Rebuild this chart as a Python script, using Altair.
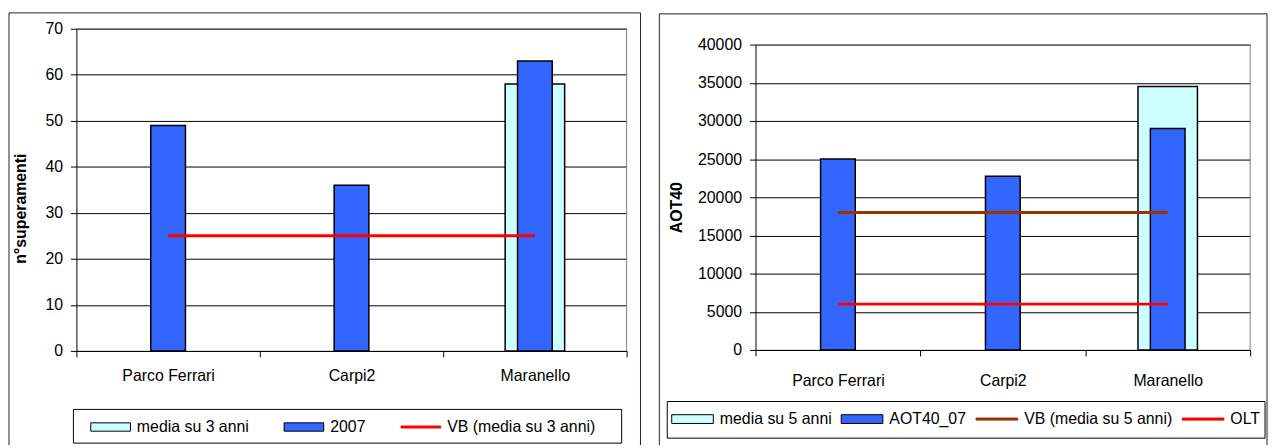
import json
import altair as alt
import pandas as pd

# ---------------- data ----------------
cats = ["Parco Ferrari", "Carpi2", "Maranello"]

# left chart
left_media_label = "media su 3 anni"
left_main_label = "2007"
left_vb_label = "VB (media su 3 anni)"
left_main = [49, 36, 63]
left_media = [None, None, 58]
left_vb = [25, 25, 25]
left_ticks = [0, 10, 20, 30, 40, 50, 60, 70]
left_ytitle = "n°superamenti"

# right chart
right_media_label = "media su 5 anni"
right_main_label = "AOT40_07"
right_vb_label = "VB (media su 5 anni)"
right_olt_label = "OLT"
right_main = [25000, 22750, 29000]
right_media = [None, None, 34500]
right_vb = [18000, 18000, 18000]
right_olt = [6000, 6000, 6000]
right_ticks = [0, 5000, 10000, 15000, 20000, 25000, 30000, 35000, 40000]
right_ytitle = "AOT40"

# ---------------- style ----------------
FONT = "Liberation Sans"
CYAN = "#CCFFFF"
BLUE = "#3366FF"
RED = "#FF0000"
BROWN = "#993300"
GRAY = "#808080"
FRAME = "#222222"


def series_df(values, label):
    rows = [{"cat": c, "value": v, "series": label}
            for c, v in zip(cats, values) if v is not None]
    return pd.DataFrame(rows)


one = pd.DataFrame({"k": [0]})


def panel(W, H, ytop, ymax, yticks, ytitle, title_x, title_y, xlab_pad,
          media_vals, media_label, main_vals, main_label, lines,
          frame, legend_pos, legend_box, colpad, symsize):
    line_names = [n for n, _, _ in lines]
    domain = [media_label, main_label] + line_names
    fill_range = [CYAN, BLUE] + [c for _, _, c in lines]
    stroke_range = ["black", "black"] + [c for _, _, c in lines]
    cond = "indexof(%s, datum.value) >= 0" % json.dumps(line_names)
    leg = alt.Legend(
        title=None, orient="none", legendX=legend_pos[0], legendY=legend_pos[1],
        direction="horizontal", columnPadding=colpad, padding=0,
        labelFont=FONT, labelFontSize=16, labelColor="black", labelOffset=6,
        labelLimit=400, symbolSize=symsize, symbolStrokeWidth=1,
        symbolType={"expr": cond + " ? 'M-1,-0.05H1V0.05H-1Z' : 'M-1,-0.21H1V0.21H-1Z'"},
    )
    x = alt.X("cat:N", sort=cats,
              scale=alt.Scale(domain=cats, paddingInner=0, paddingOuter=0),
              axis=alt.Axis(title=None, labelAngle=0, labelFont=FONT, labelFontSize=16,
                            labelColor="black", labelPadding=xlab_pad, tickBand="extent",
                            tickSize=6, tickColor="black", domainColor="black",
                            grid=False, labelLimit=300))
    y = alt.Y("value:Q",
              scale=alt.Scale(domain=[0, ymax], nice=False, zero=True, range=[H, ytop]),
              axis=alt.Axis(title=ytitle, values=yticks, format="d",
                            titleFont=FONT, titleFontSize=16, titleFontWeight="bold",
                            titleColor="black", titleX=title_x, titleY=title_y,
                            labelFont=FONT, labelFontSize=16, labelColor="black",
                            labelPadding=8, tickSize=6, tickColor="black",
                            domainColor="black", grid=True, gridColor="black"))
    fill = alt.Fill("series:N", scale=alt.Scale(domain=domain, range=fill_range), legend=leg)
    stroke = alt.Stroke("series:N", scale=alt.Scale(domain=domain, range=stroke_range), legend=leg)

    media_layer = alt.Chart(series_df(media_vals, media_label)).mark_bar(
        size=60, strokeWidth=1.5).encode(x=x, y=y, fill=fill, stroke=stroke)
    main_layer = alt.Chart(series_df(main_vals, main_label)).mark_bar(
        size=35, strokeWidth=1.5).encode(x=x, y=y, fill=fill, stroke=stroke)
    line_df = pd.concat([series_df(v, n) for n, v, _ in lines], ignore_index=True)
    line_layer = alt.Chart(line_df).mark_line(strokeWidth=3, strokeCap="butt").encode(
        x=x, y=y, stroke=stroke)

    # plot-area border (gray, top and right)
    top_border = alt.Chart(one).mark_rule(color=GRAY, strokeWidth=1).encode(
        x=alt.value(0), x2=alt.value(W), y=alt.value(ytop))
    right_border = alt.Chart(one).mark_rule(color=GRAY, strokeWidth=1).encode(
        x=alt.value(W), y=alt.value(ytop), y2=alt.value(H))

    fl, fr, ft, fb = frame
    f_left = alt.Chart(one).mark_rule(color=FRAME, strokeWidth=1).encode(
        x=alt.value(fl), y=alt.value(ft), y2=alt.value(fb))
    f_top = alt.Chart(one).mark_rule(color=FRAME, strokeWidth=1).encode(
        x=alt.value(fl), x2=alt.value(fr), y=alt.value(ft))
    f_right = alt.Chart(one).mark_rule(color=FRAME, strokeWidth=1).encode(
        x=alt.value(fr), y=alt.value(ft), y2=alt.value(fb))

    bl, br, bt, bb = legend_box
    lbox = alt.Chart(one).mark_rect(fill="transparent", stroke="black", strokeWidth=1).encode(
        x=alt.value(bl), x2=alt.value(br), y=alt.value(bt), y2=alt.value(bb))

    return alt.layer(media_layer, main_layer, line_layer, top_border, right_border,
                     f_left, f_top, f_right, lbox).properties(width=W, height=H)


# both panels share the same origin (page y ~ 27)
left = panel(
    W=555, H=325, ytop=0, ymax=70, yticks=left_ticks, ytitle=left_ytitle,
    title_x=-48, title_y=181, xlab_pad=11,
    media_vals=left_media, media_label=left_media_label,
    main_vals=left_main, main_label=left_main_label,
    lines=[(left_vb_label, left_vb, RED)],
    frame=(-68, 569, -16, 420), legend_pos=(14, 381), legend_box=(-3, 550, 384, 418),
    colpad=33, symsize=1600,
)

right = panel(
    W=499, H=324, ytop=16, ymax=40000, yticks=right_ticks, ytitle=right_ytitle,
    title_x=-72, title_y=180, xlab_pad=17,
    media_vals=right_media, media_label=right_media_label,
    main_vals=right_main, main_label=right_main_label,
    lines=[(right_vb_label, right_vb, BROWN), (right_olt_label, right_olt, RED)],
    frame=(-97, 516, -15, 420), legend_pos=(-85, 372), legend_box=(-89, 514, 376, 413),
    colpad=7, symsize=1764,
)

chart = alt.hconcat(left, right, spacing=17).resolve_scale(
    x="independent", y="independent", fill="independent", stroke="independent"
).resolve_legend(fill="independent", stroke="independent").properties(
    padding={"left": 0, "top": 2, "right": 0, "bottom": 0},
    background="white",
).configure_view(stroke="transparent")

chart.save("out.html", embed_options={"renderer": "svg", "actions": False})
